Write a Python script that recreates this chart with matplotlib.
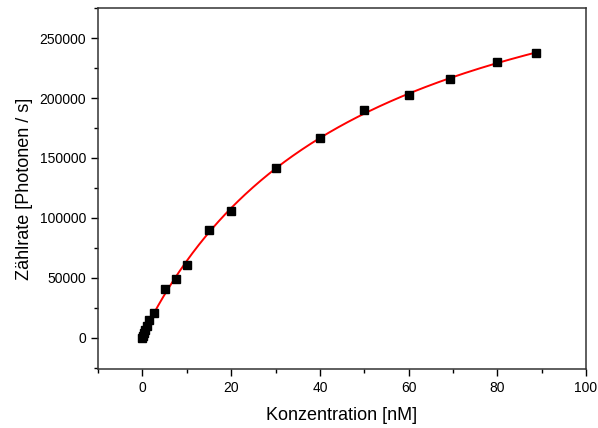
import numpy as np
import matplotlib
matplotlib.use("Agg")
import matplotlib.pyplot as plt
from matplotlib.ticker import MultipleLocator

konzentration = [0, 0.1, 0.25, 0.5, 1, 1.5, 2.5, 5, 7.5, 10, 15, 20,
                 30, 40, 50, 60, 69.4, 80, 88.7]
zaehlrate = [-500, 1500, 4000, 6800, 10000, 14500, 20800, 41000, 49000,
             60500, 89500, 105800, 141500, 167000, 189700, 202800,
             215800, 229700, 237400]

plt.rcParams['font.family'] = ['Liberation Sans', 'DejaVu Sans']

x = np.array(konzentration, dtype=float)
y = np.array(zaehlrate, dtype=float)

# hyperbolischer Fit y = y0 + B*x/(K+x), K per Gittersuche
best = None
for K in np.linspace(5, 200, 1951):
    A = np.column_stack([np.ones_like(x), x / (K + x)])
    coef, res, _, _ = np.linalg.lstsq(A, y, rcond=None)
    err = np.sum((A @ coef - y) ** 2)
    if best is None or err < best[0]:
        best = (err, K, coef)
_, K, (y0, B) = best
xf = np.linspace(x.min(), x.max(), 300)
yf = y0 + B * xf / (K + xf)

fig = plt.figure(figsize=(5.98, 4.28), dpi=100)
ax = fig.add_axes([0.164, 0.138, 0.816, 0.843])

ax.plot(xf, yf, color='red', lw=1.4, zorder=2)
ax.plot(x, y, 's', color='black', ms=5.8, zorder=3)

ax.set_xlim(-10, 100)
ax.set_ylim(-26000, 275000)
ax.xaxis.set_major_locator(MultipleLocator(20))
ax.xaxis.set_minor_locator(MultipleLocator(10))
ax.yaxis.set_major_locator(MultipleLocator(50000))
ax.yaxis.set_minor_locator(MultipleLocator(25000))
ax.tick_params(which='major', direction='out', length=5, width=1,
               labelsize=10, top=False, right=False)
ax.tick_params(which='minor', direction='out', length=3, width=1,
               top=False, right=False)
for s in ax.spines.values():
    s.set_color('#333333')
    s.set_linewidth(1.1)

ax.set_xlabel('Konzentration [nM]', fontsize=13, labelpad=9)
ax.set_ylabel('Zählrate [Photonen / s]', fontsize=13, labelpad=5)

fig.savefig('out.png', dpi=100)
